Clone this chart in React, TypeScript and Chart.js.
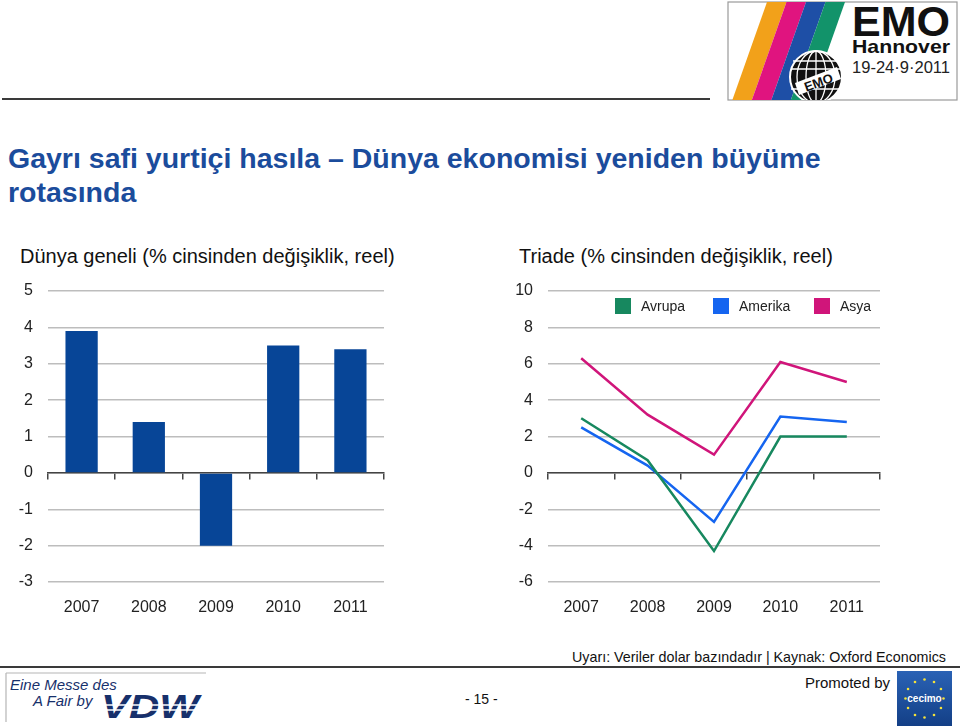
import React, { useEffect, useRef } from "react";
import { Chart, registerables } from "chart.js";
Chart.register(...registerables);

// ---------- data ----------
const years = ["2007", "2008", "2009", "2010", "2011"];
const worldGdp = [3.9, 1.4, -2.0, 3.5, 3.4];
const europeGdp = [3.0, 0.7, -4.3, 2.0, 2.0];
const americaGdp = [2.5, 0.4, -2.7, 3.1, 2.8];
const asiaGdp = [6.3, 3.2, 1.0, 6.1, 5.0];
const seriesNames = ["Avrupa", "Amerika", "Asya"];
const seriesColors = ["#17885F", "#1565F0", "#D0157A"];
const leftRange = [-3, 5, 1];
const rightRange = [-6, 10, 2];

const FONT = "'Liberation Sans', Arial, sans-serif";
const GRID = "#BDBDBD";
const TEXT = "#222";

function commonScales(range: number[]) {
  return {
    x: {
      type: "category",
      offset: true,
      grid: { display: false },
      border: { display: false },
      ticks: { color: TEXT, font: { family: FONT, size: 16 }, padding: 8, maxRotation: 0 },
      afterFit: (s: any) => { s.height = 38; },
    },
    x0: {
      type: "category",
      position: { y: 0 },
      offset: true,
      grid: { display: true, drawOnChartArea: false, drawTicks: true, tickLength: 6, color: "#444", lineWidth: 1.5, offset: true },
      border: { display: true, color: "#444", width: 1.5 },
      ticks: { display: false },
    },
    y: {
      min: range[0],
      max: range[1],
      border: { display: false },
      grid: { color: GRID, lineWidth: 1.5, drawTicks: false },
      ticks: { stepSize: range[2], color: TEXT, font: { family: FONT, size: 16 }, padding: 15 },
      afterFit: (s: any) => { s.width = 48; s.paddingTop = 0; s.paddingBottom = 0; },
    },
  };
}

function BarChart() {
  const ref = useRef<HTMLCanvasElement>(null);
  useEffect(() => {
    const chart = new Chart(ref.current as HTMLCanvasElement, {
      type: "bar",
      data: {
        labels: years,
        datasets: [
          { data: worldGdp, backgroundColor: "#074597", borderWidth: 0, barPercentage: 0.48, categoryPercentage: 1 },
        ],
      },
      options: {
        animation: false,
        responsive: false,
        maintainAspectRatio: false,
        layout: { padding: { top: 11, right: 16, left: 0, bottom: 0 } },
        plugins: { legend: { display: false }, tooltip: { enabled: false } },
        scales: commonScales(leftRange) as any,
      },
    });
    return () => chart.destroy();
  }, []);
  return <canvas ref={ref} width={400} height={340} style={{ position: "absolute", left: 0, top: 280, width: 400, height: 340 }} />;
}

function LineChart() {
  const ref = useRef<HTMLCanvasElement>(null);
  useEffect(() => {
    const all = [europeGdp, americaGdp, asiaGdp];
    const chart = new Chart(ref.current as HTMLCanvasElement, {
      type: "line",
      data: {
        labels: years,
        datasets: all.map((d, i) => ({
          label: seriesNames[i],
          data: d,
          borderColor: seriesColors[i],
          backgroundColor: seriesColors[i],
          borderWidth: 2.5,
          pointRadius: 0,
          tension: 0,
          fill: false,
        })),
      },
      options: {
        animation: false,
        responsive: false,
        maintainAspectRatio: false,
        layout: { padding: { top: 11, right: 80, left: 0, bottom: 0 } },
        plugins: { legend: { display: false }, tooltip: { enabled: false } },
        scales: commonScales(rightRange) as any,
      },
    });
    return () => chart.destroy();
  }, []);
  return <canvas ref={ref} width={460} height={340} style={{ position: "absolute", left: 500, top: 280, width: 460, height: 340 }} />;
}

function Legend() {
  const lefts = [615, 713, 814];
  return (
    <>
      {seriesNames.map((n, i) => (
        <div key={n} style={{ position: "absolute", left: lefts[i], top: 298, height: 16, display: "flex", alignItems: "center" }}>
          <div style={{ width: 16, height: 16, background: seriesColors[i] }} />
          <span style={{ marginLeft: 10, fontFamily: FONT, fontSize: 14, color: TEXT, lineHeight: "16px" }}>{n}</span>
        </div>
      ))}
    </>
  );
}

function EmoLogo() {
  const stripes = ["#F2A11A", "#E0147F", "#1E4FA6", "#12936A"];
  return (
    <svg width={232} height={100} viewBox="0 0 232 100" style={{ position: "absolute", left: 727, top: 1 }}>
      <defs>
        <clipPath id="emoClip"><rect x={1} y={1} width={122} height={98} /></clipPath>
      </defs>
      <rect x={1} y={1} width={229} height={98} fill="#fff" stroke="#9a9a9a" strokeWidth={1.2} />
      <g clipPath="url(#emoClip)">
        {stripes.map((c, i) => (
          <polygon key={c} fill={c} points={`${40 + i * 19.5},1 ${59.5 + i * 19.5},1 ${24.5 + i * 19.5},100 ${5 + i * 19.5},100`} />
        ))}
        <circle cx={89} cy={76} r={26} fill="#111" stroke="#fff" strokeWidth={2} />
        <g stroke="#fff" strokeWidth={1.3} fill="none">
          <ellipse cx={89} cy={76} rx={10} ry={26} />
          <ellipse cx={89} cy={76} rx={19} ry={26} />
          <line x1={89} y1={50} x2={89} y2={102} />
          <line x1={64} y1={68} x2={114} y2={68} />
          <line x1={66} y1={60} x2={112} y2={60} />
          <line x1={64} y1={88} x2={114} y2={88} />
        </g>
        <polygon points="68,82 110,66 114,78 72,94" fill="#fff" />
        <text x={91} y={86} transform="rotate(-20 91 80)" textAnchor="middle" fontFamily={FONT} fontWeight="bold" fontSize={13} fill="#111">EMO</text>
      </g>
      <text x={125} y={35} fontFamily={FONT} fontWeight="bold" fontSize={42} fill="#111" textLength={98} lengthAdjust="spacingAndGlyphs">EMO</text>
      <text x={125} y={52} fontFamily={FONT} fontWeight="bold" fontSize={19} fill="#111" textLength={98} lengthAdjust="spacingAndGlyphs">Hannover</text>
      <text x={125} y={72} fontFamily={FONT} fontSize={16} fill="#222" textLength={98} lengthAdjust="spacingAndGlyphs">19-24·9·2011</text>
    </svg>
  );
}

function VdwLogo() {
  return (
    <svg width={205} height={52} viewBox="0 0 205 52" style={{ position: "absolute", left: 4, top: 672 }}>
      <line x1={2} y1={1} x2={202} y2={1} stroke="#b5b5b5" strokeWidth={1.2} />
      <line x1={2} y1={1} x2={2} y2={50} stroke="#b5b5b5" strokeWidth={1.2} />
      <text x={6} y={18} fontFamily={FONT} fontStyle="italic" fontSize={15} fill="#17306B">Eine Messe des</text>
      <text x={29} y={34} fontFamily={FONT} fontStyle="italic" fontSize={15} fill="#17306B">A Fair by</text>
      <text x={97} y={46} fontFamily={FONT} fontStyle="italic" fontWeight="bold" fontSize={34} fill="#17306B" textLength={98} lengthAdjust="spacingAndGlyphs">VDW</text>
      <line x1={96} y1={33} x2={196} y2={33} stroke="#fff" strokeWidth={1.3} />
      <line x1={96} y1={38} x2={196} y2={38} stroke="#fff" strokeWidth={1.3} />
    </svg>
  );
}

function CecimoLogo() {
  const stars = Array.from({ length: 12 }, (_, i) => i);
  return (
    <svg width={55} height={55} viewBox="0 0 55 55" style={{ position: "absolute", left: 897, top: 671 }}>
      <defs>
        <linearGradient id="cg" x1="0" y1="0" x2="0" y2="1">
          <stop offset="0" stopColor="#2A62B5" />
          <stop offset="1" stopColor="#133F86" />
        </linearGradient>
      </defs>
      <rect x={0} y={0} width={55} height={55} fill="url(#cg)" />
      {stars.map((i) => {
        const a = (i / 12) * Math.PI * 2;
        return <circle key={i} cx={27.5 + 19 * Math.cos(a)} cy={27.5 + 19 * Math.sin(a)} r={1.3} fill="#F4E23A" />;
      })}
      <text x={27.5} y={31} textAnchor="middle" fontFamily={FONT} fontWeight="bold" fontSize={10} fill="#fff">cecimo</text>
    </svg>
  );
}

export default function App() {
  const abs = (s: any) => ({ position: "absolute" as const, whiteSpace: "nowrap" as const, fontFamily: FONT, ...s });
  return (
    <div style={{ position: "absolute", left: 0, top: 0, width: 960, height: 727, background: "#fff", overflow: "hidden" }}>
      <EmoLogo />
      <div style={{ position: "absolute", left: 2, top: 98, width: 708, height: 2, background: "#3a3a3a" }} />
      <div style={abs({ left: 8, top: 141, fontSize: 28.5, fontWeight: "bold", color: "#1B4C9C", lineHeight: "34px" })}>
        Gayrı safi yurtiçi hasıla – Dünya ekonomisi yeniden büyüme
        <br />
        rotasında
      </div>
      <div style={abs({ left: 20, top: 244, fontSize: 20, color: "#111", lineHeight: "24px" })}>
        Dünya geneli (% cinsinden değişiklik, reel)
      </div>
      <div style={abs({ left: 519, top: 244, fontSize: 20, color: "#111", lineHeight: "24px" })}>
        Triade (% cinsinden değişiklik, reel)
      </div>
      <BarChart />
      <LineChart />
      <Legend />
      <div style={abs({ right: 14, top: 648, fontSize: 14.3, color: "#111", lineHeight: "18px" })}>
        Uyarı: Veriler dolar bazındadır | Kaynak: Oxford Economics
      </div>
      <div style={{ position: "absolute", left: 0, top: 666, width: 960, height: 2, background: "#3a3a3a" }} />
      <VdwLogo />
      <div style={abs({ left: 465, top: 691, fontSize: 14, color: "#111", lineHeight: "16px" })}>- 15 -</div>
      <div style={abs({ left: 805, top: 674, fontSize: 15, color: "#111", lineHeight: "18px" })}>Promoted by</div>
      <CecimoLogo />
    </div>
  );
}
